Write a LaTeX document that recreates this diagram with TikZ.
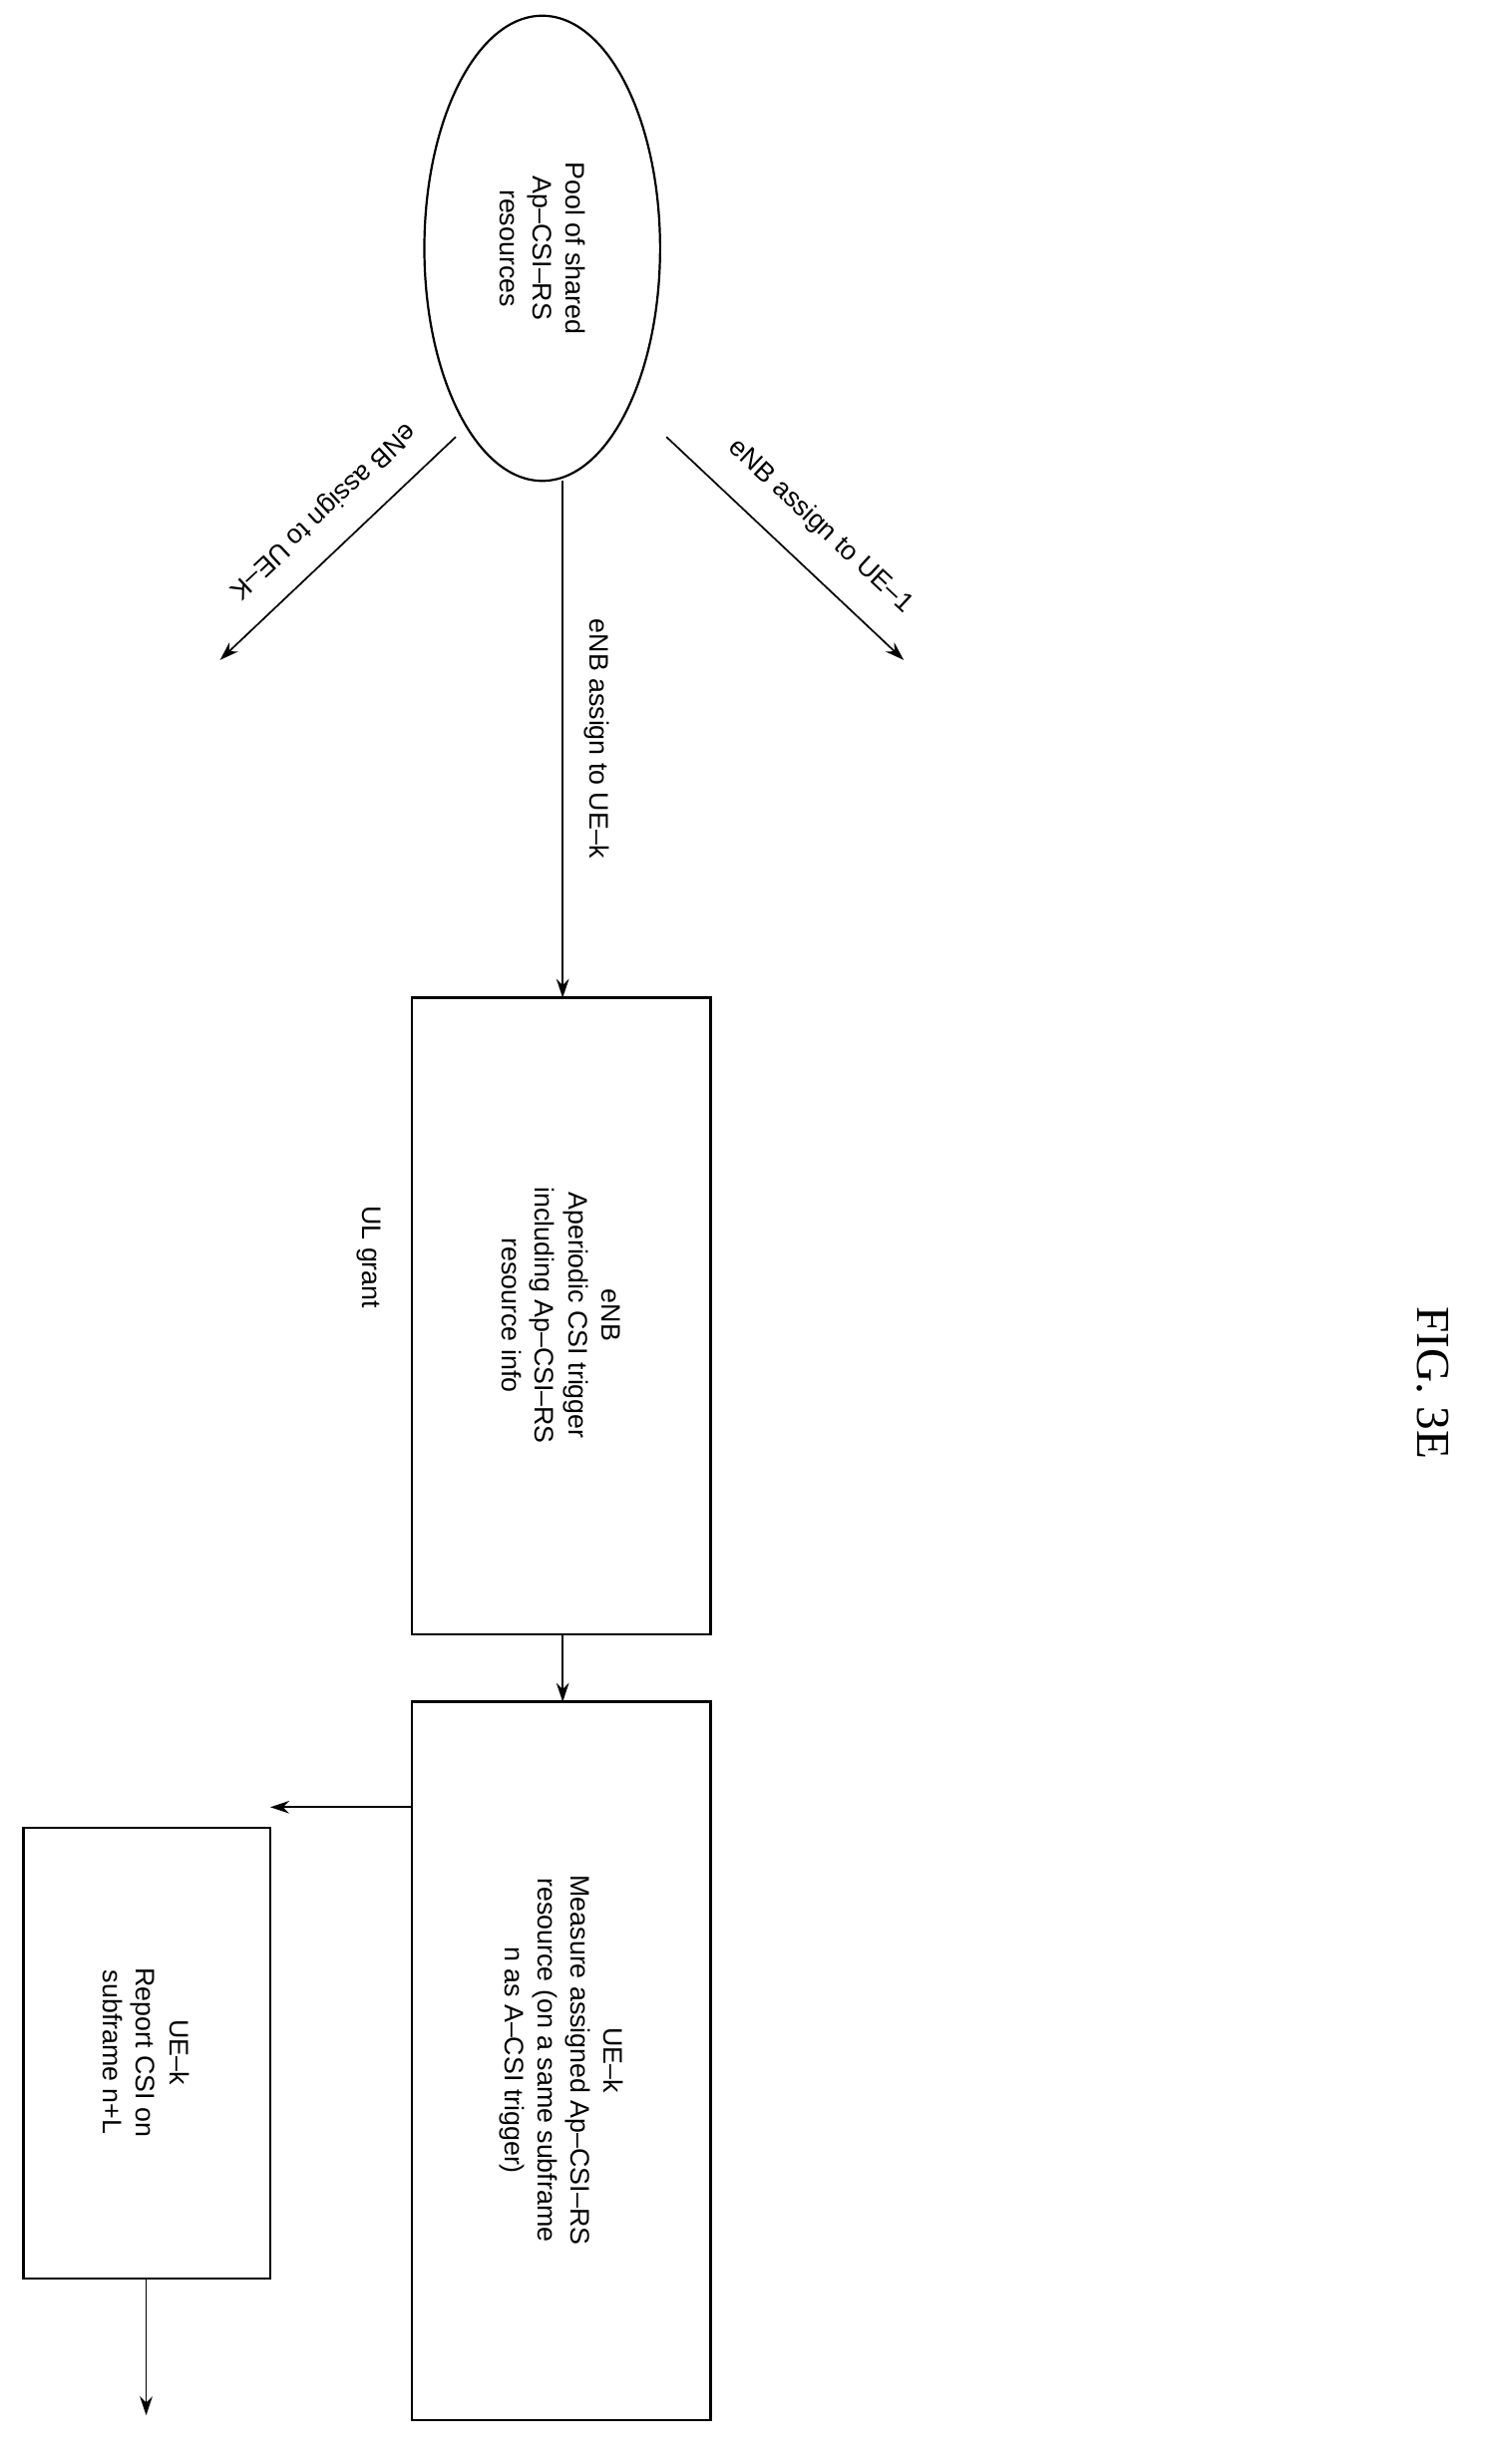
\documentclass[tikz,border=0pt]{standalone}
\usepackage{fontspec}
\setmainfont{Liberation Sans}
\newfontfamily\figfont{Liberation Serif}
\usetikzlibrary{shapes.geometric,arrows.meta}
\begin{document}
\begin{tikzpicture}[x=1pt,y=-1pt,
  box/.style={draw,line width=1.6pt},
  lbl/.style={rotate=-90,align=center,font=\fontsize{17}{21}\selectfont,inner sep=1pt},
  arr/.style={-{Stealth[length=12pt,width=8pt]},line width=1.1pt}]
\useasboundingbox (0,0) rectangle (946,1568);

% pool
\node (pool) [draw,line width=1.4pt,ellipse,minimum width=150pt,minimum height=296pt] at (345,158) {};
\node [lbl] at (pool.center) {Pool of shared\\Ap--CSI--RS\\resources};

% boxes
\draw [box] (262,635) rectangle (452,1040);
\node (trig) [lbl] at (357,837) {eNB\\Aperiodic CSI trigger\\including Ap--CSI--RS\\resource info};
\draw [box] (262,1083) rectangle (452,1540);
\node (meas) [lbl] at (357,1311) {UE--k\\Measure assigned Ap--CSI--RS\\resource (on a same subframe\\n as A--CSI trigger)};
\draw [box] (15,1163) rectangle (172,1450);
\node (rep) [lbl] at (93,1306) {UE--k\\Report CSI on\\subframe n+L};
\node [lbl] at (235,800) {UL grant};

% connectors
\coordinate (pk) at (290,278);
\coordinate (ek) at (140,420);
\coordinate (p1) at (424,278);
\coordinate (e1) at (575,420);
\draw [arr] (pk) -- (ek);
\draw [arr] (p1) -- (e1);
\node [lbl,rotate=-47] at (205,325) {eNB assign to UE--K};
\node [lbl,rotate=47] at (522,335) {eNB assign to UE--1};
\draw [arr] (358,306) -- (358,635);
\node [lbl] at (380,470) {eNB assign to UE--k};
\draw [arr] (358,1040) -- (358,1083);
\draw [arr] (262,1150) -- (172,1150);
\draw [arr] (93,1450) -- (93,1537);

\node [rotate=-90,font=\figfont\fontsize{30}{34}\selectfont] at (912,880) {FIG. 3E};
\end{tikzpicture}
\end{document}
